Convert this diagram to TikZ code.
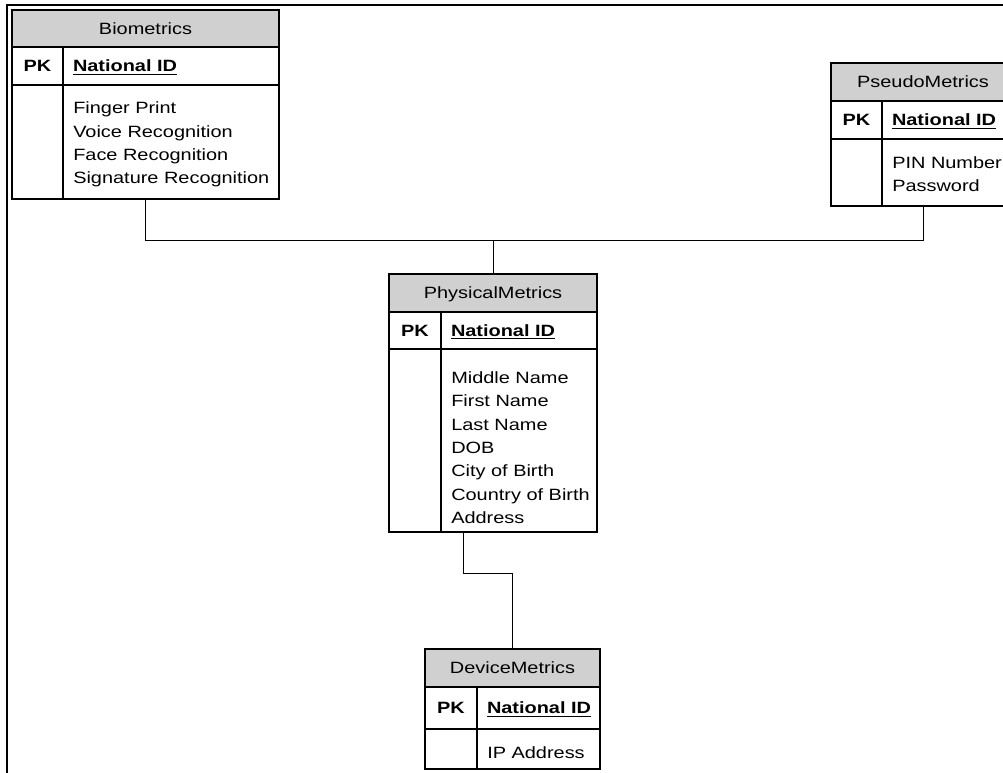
\documentclass[tikz,border=0pt]{standalone}
\usepackage{fontspec}
\setmainfont{Liberation Sans}[FakeStretch=1.22]
\usetikzlibrary{positioning,calc}
\definecolor{headgray}{RGB}{208,208,208}
\newcommand{\erfont}{\fontsize{12.25pt}{17.5pt}\selectfont}
\tikzset{
  cell/.style={draw, line width=1pt, inner sep=0pt, outer sep=0pt, anchor=north west},
  headcell/.style={cell, fill=headgray, text height=8.8pt, text depth=0pt},
  pkcell/.style={cell, font=\erfont\bfseries, text height=8.8pt, text depth=0pt},
  keycell/.style={cell, inner xsep=7.5pt, align=left, text height=8.8pt, text depth=0pt},
  attrs/.style={inner sep=0pt, anchor=north west, align=left},
  link/.style={line width=0.75pt}
}

\begin{document}
\begin{tikzpicture}[x=0.75pt, y=-0.75pt, font=\erfont]
        \useasboundingbox (0,0) rectangle (1003,772);
        \clip (0,0) rectangle (1003,772);
        % page frame
        \draw[line width=1.7pt] (7,790) -- (7,5) -- (1020,5);

        % Biometrics table
        \node[headcell, minimum width=200.25pt, minimum height=27.75pt] (bio-head) at (12,10) {Biometrics};
        \node[pkcell, minimum width=38.25pt, minimum height=28.5pt] (bio-pk) at (bio-head.south west) {PK};
        \node[keycell, text width=147pt, minimum height=28.5pt] (bio-key) at (bio-pk.north east) {\textbf{\underline{National ID}}};
        \node[cell, minimum width=38.25pt, minimum height=85.5pt] (bio-gap) at (bio-pk.south west) {};
        \node[cell, minimum width=162pt, minimum height=85.5pt] (bio-body) at (bio-gap.north east) {};
        \node[attrs] (bio-list) at ([shift={(10,16.7)}]bio-body.north west) {Finger Print\\Voice Recognition\\Face Recognition\\Signature Recognition};

        % PseudoMetrics table
        \node[headcell, minimum width=138pt, minimum height=28.5pt] (ps-head) at (831,63) {PseudoMetrics};
        \node[pkcell, minimum width=38.25pt, minimum height=28.5pt] (ps-pk) at (ps-head.south west) {PK};
        \node[keycell, text width=84.75pt, minimum height=28.5pt] (ps-key) at (ps-pk.north east) {\textbf{\underline{National ID}}};
        \node[cell, minimum width=38.25pt, minimum height=50.25pt] (ps-gap) at (ps-pk.south west) {};
        \node[cell, minimum width=99.75pt, minimum height=50.25pt] (ps-body) at (ps-gap.north east) {};
        \node[attrs] (ps-list) at ([shift={(10,17.3)}]ps-body.north west) {PIN Number\\Password};

        % PhysicalMetrics table
        \node[headcell, minimum width=156pt, minimum height=28.5pt] (ph-head) at (389,274) {PhysicalMetrics};
        \node[pkcell, minimum width=39pt, minimum height=27.75pt] (ph-pk) at (ph-head.south west) {PK};
        \node[keycell, text width=102pt, minimum height=27.75pt] (ph-key) at (ph-pk.north east) {\textbf{\underline{National ID}}};
        \node[cell, minimum width=39pt, minimum height=137.25pt] (ph-gap) at (ph-pk.south west) {};
        \node[cell, minimum width=117pt, minimum height=137.25pt] (ph-body) at (ph-gap.north east) {};
        \node[attrs] (ph-list) at ([shift={(10,22.3)}]ph-body.north west) {Middle Name\\First Name\\Last Name\\DOB\\City of Birth\\Country of Birth\\Address};

        % DeviceMetrics table
        \node[headcell, minimum width=131.25pt, minimum height=28.5pt] (dev-head) at (425,649) {DeviceMetrics};
        \node[pkcell, minimum width=39pt, minimum height=31.5pt] (dev-pk) at (dev-head.south west) {PK};
        \node[keycell, text width=77.25pt, minimum height=31.5pt] (dev-key) at (dev-pk.north east) {\textbf{\underline{National ID}}};
        \node[cell, minimum width=39pt, minimum height=30pt] (dev-gap) at (dev-pk.south west) {};
        \node[cell, minimum width=92.25pt, minimum height=30pt] (dev-body) at (dev-gap.north east) {};
        \node[attrs] (dev-list) at ([shift={(10,17.3)}]dev-body.north west) {IP Address};

        % relationships
        \coordinate (bus) at (0,240);
        \coordinate (kink) at (0,573);
        \coordinate (bio-out) at (bio-head.south |- bio-body.south);
        \coordinate (ps-out) at (ps-head.south |- ps-body.south);
        \coordinate (ph-out) at ([xshift=16.5pt]ph-body.south west);
        \draw[link] (bio-out) |- (bus -| ps-out) -- (ps-out);
        \draw[link] (ph-head.north) -- (bus -| ph-head.north);
        \draw[link] (ph-out) |- (kink -| dev-head.north) -- (dev-head.north);
    \end{tikzpicture}
\end{document}
